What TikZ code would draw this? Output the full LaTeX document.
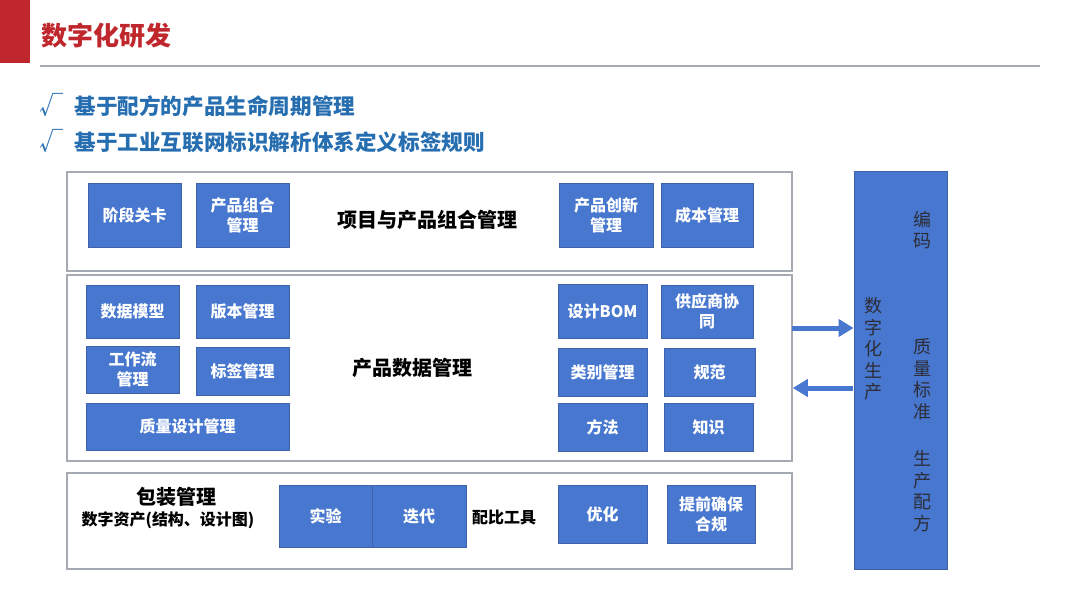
\documentclass[tikz,border=0pt]{standalone}
\usepackage{fontspec}
\setmainfont{Noto Sans CJK SC}
\usepackage{tikz}
\usetikzlibrary{arrows.meta}
\definecolor{boxblue}{RGB}{71,119,207}
\definecolor{boxedge}{RGB}{62,98,165}
\definecolor{panelgray}{RGB}{165,170,178}
\definecolor{titlered}{RGB}{192,39,45}
\definecolor{bulletblue}{RGB}{38,110,176}
\definecolor{sidetext}{RGB}{45,45,55}
\tikzset{
  blue box/.style={rectangle,draw=boxedge,line width=0.8pt,fill=boxblue,text=white,align=center,inner sep=0pt,font=\bfseries\fontsize{16}{20}\selectfont},
  panel/.style={rectangle,draw=panelgray,line width=1.5pt,fill=white,inner sep=0pt},
  panel label/.style={font=\bfseries\fontsize{20}{24}\selectfont,align=center},
  small label/.style={font=\bfseries\fontsize{16}{20}\selectfont,align=center},
  side text/.style={text=sidetext,align=center,font=\fontsize{18}{21.5}\selectfont},
  tick/.style={anchor=west,text=bulletblue,font=\fontsize{24}{26}\selectfont},
  bullet/.style={anchor=west,text=bulletblue,font=\bfseries\fontsize{21.6}{24}\selectfont},
  flow/.style={draw=boxblue,line width=5pt,-{Triangle[length=15pt,width=17pt]}}
}
\begin{document}
\begin{tikzpicture}[x=1pt,y=-1pt]
	\useasboundingbox (0,0) rectangle (1080,608);
	\fill[titlered] (0,0) rectangle (30,63);
	\node[anchor=west,text=titlered,font=\bfseries\fontsize{26}{30}\selectfont] (title) at (38,36) {数字化研发};
	\draw[panelgray,line width=1.5pt] (40,66) -- (1040,66);
	\node[tick] (tick1) at (36,105) {√};
	\node[bullet] (bullet1) at (71,106) {基于配方的产品生命周期管理};
	\node[tick] (tick2) at (36,141) {√};
	\node[bullet] (bullet2) at (71,142) {基于工业互联网标识解析体系定义标签规则};

	\node[panel,minimum width=725pt,minimum height=99pt] (project panel) at (429.5,221.5) {};
	\node[panel,minimum width=725pt,minimum height=186pt] (data panel) at (429.5,368) {};
	\node[panel,minimum width=725pt,minimum height=96pt] (pack panel) at (429.5,521) {};
	\node[rectangle,draw=boxedge,line width=0.8pt,fill=boxblue,minimum width=93pt,minimum height=398pt] (prod) at (900.5,370) {};

	\node[blue box,minimum width=93pt,minimum height=64pt] (gate) at (134.5,215) {阶段关卡};
	\node[blue box,minimum width=93pt,minimum height=64pt] (combo) at (242.5,215) {产品组合\\管理};
	\node[panel label] (project) at (427,220) {项目与产品组合管理};
	\node[blue box,minimum width=94pt,minimum height=64pt] (innov) at (606,215) {产品创新\\管理};
	\node[blue box,minimum width=92pt,minimum height=64pt] (cost) at (707,215) {成本管理};

	\node[blue box,minimum width=93pt,minimum height=53pt] (model) at (132.5,311.5) {数据模型};
	\node[blue box,minimum width=93pt,minimum height=53pt] (version) at (242.5,311.5) {版本管理};
	\node[blue box,minimum width=93pt,minimum height=47pt] (workflow) at (132.5,369.5) {工作流\\管理};
	\node[blue box,minimum width=93pt,minimum height=48pt] (tag) at (242.5,371) {标签管理};
	\node[blue box,minimum width=203pt,minimum height=47pt] (quality) at (187.5,426.5) {质量设计管理};
	\node[panel label] (pdm) at (412,368) {产品数据管理};
	\node[blue box,minimum width=89pt,minimum height=54pt] (bom) at (602.5,311) {设计BOM};
	\node[blue box,minimum width=92pt,minimum height=53pt] (supplier) at (707,311.5) {供应商协\\同};
	\node[blue box,minimum width=89pt,minimum height=48pt] (category) at (602.5,372) {类别管理};
	\node[blue box,minimum width=91pt,minimum height=48pt] (norm) at (709.5,372) {规范};
	\node[blue box,minimum width=89pt,minimum height=48pt] (method) at (602.5,427) {方法};
	\node[blue box,minimum width=89pt,minimum height=48pt] (knowledge) at (708.5,427) {知识};

	\node[panel label] (pack) at (176,497) {包装管理};
	\node[small label] (assets) at (168,520) {数字资产(结构、设计图)};
	\node[blue box,minimum width=93pt,minimum height=62pt] (test) at (325.5,516) {实验};
	\node[blue box,minimum width=94pt,minimum height=62pt] (iterate) at (419,516) {迭代};
	\node[small label] (ratio) at (504,518) {配比工具};
	\node[blue box,minimum width=89pt,minimum height=58pt] (optimize) at (602.5,514) {优化};
	\node[blue box,minimum width=88pt,minimum height=58pt] (comply) at (711,514) {提前确保\\合规};

	\node[side text] (coding) at (922,230) {编\\码};
	\node[side text] (digital) at (873,349) {数\\字\\化\\生\\产};
	\node[side text] (standard) at (922,379) {质\\量\\标\\准};
	\node[side text] (recipe) at (922,491) {生\\产\\配\\方};

	\coordinate (out) at (792,328);
	\coordinate (back) at (853,388);
	\draw[flow] (out) -- (out -| prod.west);
	\draw[flow] (back) -- (back -| data panel.east);
\end{tikzpicture}
\end{document}
